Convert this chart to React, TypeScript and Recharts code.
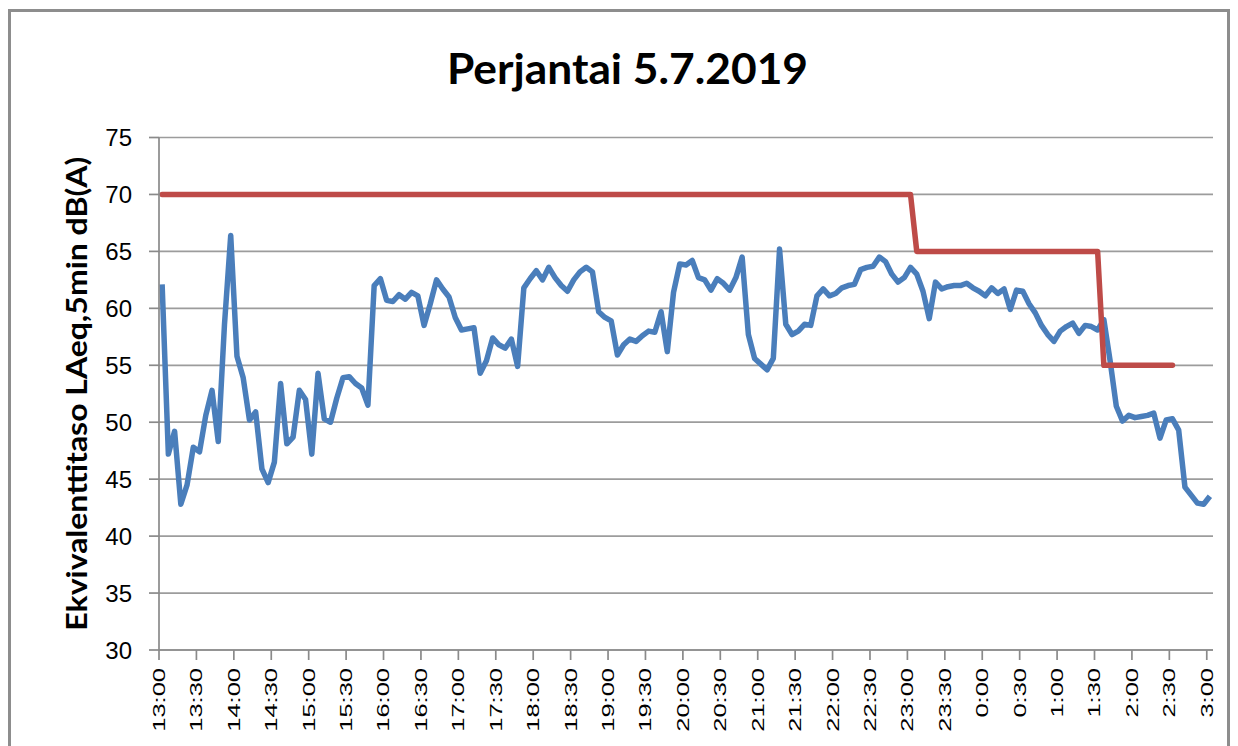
import React from 'react'
import { LineChart, Line, XAxis, YAxis, CartesianGrid } from 'recharts'

// 5-minute LAeq readings, 13:00 -> 3:00 (169 points)
const LAEQ = [
  62.1, 47.2, 49.2, 42.8, 44.5, 47.8, 47.4, 50.6, 52.8, 48.3,
  58.6, 66.4, 55.8, 53.9, 50.2, 50.9, 45.9, 44.7, 46.5, 53.4,
  48.1, 48.7, 52.8, 52.0, 47.2, 54.3, 50.3, 50.0, 52.1, 53.9,
  54.0, 53.4, 53.0, 51.5, 62.0, 62.6, 60.7, 60.6, 61.2, 60.8,
  61.4, 61.1, 58.5, 60.4, 62.5, 61.7, 61.0, 59.2, 58.1, 58.2,
  58.3, 54.3, 55.4, 57.4, 56.8, 56.5, 57.3, 54.9, 61.8, 62.6,
  63.3, 62.5, 63.6, 62.7, 62.0, 61.5, 62.5, 63.2, 63.6, 63.2,
  59.7, 59.2, 58.9, 55.9, 56.8, 57.3, 57.1, 57.6, 58.0, 57.9,
  59.7, 56.2, 61.4, 63.9, 63.8, 64.2, 62.7, 62.5, 61.6, 62.6,
  62.2, 61.6, 62.7, 64.5, 57.7, 55.6, 55.1, 54.6, 55.6, 65.2,
  58.6, 57.7, 58.0, 58.6, 58.5, 61.1, 61.7, 61.1, 61.3, 61.8,
  62.0, 62.1, 63.4, 63.6, 63.7, 64.5, 64.1, 63.0, 62.3, 62.7,
  63.6, 63.0, 61.5, 59.1, 62.3, 61.7, 61.9, 62.0, 62.0, 62.2,
  61.8, 61.5, 61.1, 61.8, 61.3, 61.7, 59.9, 61.6, 61.5, 60.4,
  59.6, 58.5, 57.7, 57.1, 58.0, 58.4, 58.7, 57.8, 58.5, 58.4,
  58.1, 59.0, 55.4, 51.4, 50.1, 50.6, 50.4, 50.5, 50.6, 50.8,
  48.6, 50.2, 50.3, 49.3, 44.3, 43.6, 42.9, 42.8, 43.5,
]

// limit value steps: 70 dB until 23:00, 65 dB until 1:30, 55 dB until ~2:30
const LIMIT_STEPS = [
  { from: 0, to: 120, value: 70 },
  { from: 121, to: 150, value: 65 },
  { from: 151, to: 162, value: 55 },
]

const TICK_LABELS = [
  '13:00', '13:30', '14:00', '14:30', '15:00', '15:30', '16:00', '16:30',
  '17:00', '17:30', '18:00', '18:30', '19:00', '19:30', '20:00', '20:30',
  '21:00', '21:30', '22:00', '22:30', '23:00', '23:30', '0:00', '0:30',
  '1:00', '1:30', '2:00', '2:30', '3:00',
]
const Y_TICKS = [30, 35, 40, 45, 50, 55, 60, 65, 70, 75]
const POINTS_PER_TICK = 6

const data = LAEQ.map((v, i) => {
  const step = LIMIT_STEPS.find((s) => i >= s.from && i <= s.to)
  return { i, laeq: v, limit: step ? step.value : null }
})

// ticks sit on the boundaries between categories, like the Excel original
const xTicks = TICK_LABELS.map((_, k) => k * POINTS_PER_TICK - 0.5)

function TimeTick({ x, y, payload }: any) {
  const k = Math.round((payload.value + 0.5) / POINTS_PER_TICK)
  return (
    <text
      transform={`translate(${x},${y}) rotate(-90) scale(1.5,1)`}
      textAnchor="end"
      dy="0.35em"
      fontSize={17}
      fontFamily="Liberation Sans, Arial, sans-serif"
      fill="#000"
    >
      {TICK_LABELS[k]}
    </text>
  )
}

function YTitle({ viewBox }: any) {
  const cy = viewBox.y + viewBox.height / 2
  return (
    <text
      transform={`translate(${viewBox.x - 12},${cy}) rotate(-90)`}
      textAnchor="middle"
      fontSize={29}
      fontWeight={700}
      fontFamily="Lato, sans-serif"
      textLength={474}
      lengthAdjust="spacingAndGlyphs"
      fill="#000"
    >
      Ekvivalenttitaso LAeq,5min dB(A)
    </text>
  )
}

export default function App() {
  return (
    <div style={{ position: 'absolute', left: 0, top: 0, width: 1238, height: 746, overflow: 'hidden', background: '#fff' }}>
      <div
        style={{
          position: 'absolute',
          left: 8,
          top: 9,
          width: 1222,
          height: 800,
          border: '3px solid #8d8d8d',
          boxSizing: 'border-box',
        }}
      />
      <svg width={1238} height={120} style={{ position: 'absolute', left: 0, top: 0 }}>
        <text
          x={627.5}
          y={84}
          textAnchor="middle"
          fontSize={42}
          fontWeight={700}
          fontFamily="Lato, sans-serif"
          textLength={361}
          lengthAdjust="spacingAndGlyphs"
          fill="#000"
        >
          Perjantai 5.7.2019
        </text>
      </svg>
      <div style={{ position: 'absolute', left: 0, top: 0 }}>
        <LineChart width={1238} height={746} data={data} margin={{ top: 137.5, right: 25, bottom: 16, left: 99 }}>
          <CartesianGrid vertical={false} stroke="#9c9c9c" strokeWidth={1.7} />
          <XAxis
            dataKey="i"
            type="number"
            domain={[-0.5, 168.5]}
            ticks={xTicks}
            interval={0}
            height={80}
            tickSize={10}
            tickMargin={8}
            tick={<TimeTick />}
            axisLine={{ stroke: '#8a8a8a', strokeWidth: 1.7 }}
            tickLine={{ stroke: '#8a8a8a', strokeWidth: 1.7 }}
          />
          <YAxis
            domain={[30, 75]}
            ticks={Y_TICKS}
            interval={0}
            width={60}
            tickSize={10}
            tickMargin={17}
            tick={{ fontSize: 24, fontFamily: 'Liberation Sans, Arial, sans-serif', fill: '#000' }}
            axisLine={{ stroke: '#8a8a8a', strokeWidth: 1.7 }}
            tickLine={{ stroke: '#8a8a8a', strokeWidth: 1.7 }}
            label={<YTitle />}
          />
          <Line
            dataKey="laeq"
            type="linear"
            stroke="#4a7ebb"
            strokeWidth={5.5}
            strokeLinejoin="round"
            dot={false}
            isAnimationActive={false}
          />
          <Line
            dataKey="limit"
            type="linear"
            stroke="#be4b48"
            strokeWidth={5.5}
            strokeLinejoin="round"
            strokeLinecap="round"
            dot={false}
            isAnimationActive={false}
          />
        </LineChart>
      </div>
    </div>
  )
}
